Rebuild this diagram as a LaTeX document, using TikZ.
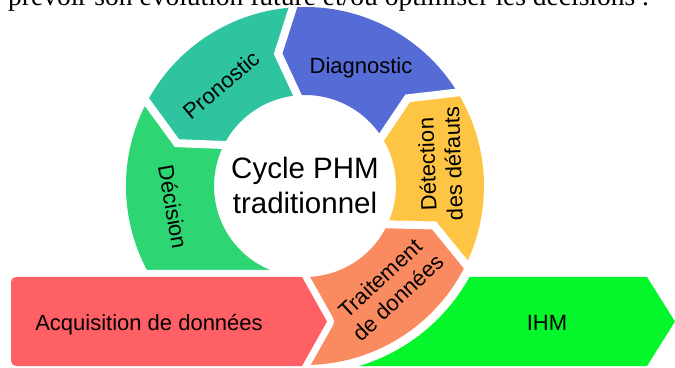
\documentclass[tikz,border=0pt]{standalone}
\usepackage{fontspec}
\setmainfont{Liberation Sans}
\newfontfamily\seriffont{Liberation Serif}
\definecolor{cTeal}{HTML}{2EC4A0}
\definecolor{cBlue}{HTML}{556CD6}
\definecolor{cYellow}{HTML}{FDC543}
\definecolor{cOrange}{HTML}{FA8A60}
\definecolor{cGreen}{HTML}{2ED573}
\definecolor{cRed}{HTML}{FF6066}
\definecolor{cIHM}{HTML}{05F72B}
\begin{document}
\begin{tikzpicture}[x=1pt,y=1pt,
  lbl/.style={font=\fontsize{22}{26}\selectfont, text=black, inner sep=0pt, align=center},
  big/.style={font=\fontsize{29.5}{34}\selectfont, text=black, inner sep=0pt},
  gapline/.style={draw=white, line width=8, line join=miter},
  acq/.style={fill=cRed, preaction={draw=white, line width=14, line join=round}}]
\useasboundingbox (0,0) rectangle (675,367);
\fill[white] (0,0) rectangle (675,367);
% ring segments
\begin{scope}[shift={(305,181)}]
\fill[cOrange] (-90:179) arc[start angle=-90,end angle=-27,radius=179] -- (-17:135) -- (-27:91) arc[start angle=-27,end angle=-90,radius=91] -- cycle;
\fill[cYellow] (-27:179) arc[start angle=-27,end angle=30.5,radius=179] -- (40.5:135) -- (30.5:91) arc[start angle=30.5,end angle=-27,radius=91] -- (-17:135) -- cycle;
\fill[cBlue] (30.5:179) arc[start angle=30.5,end angle=93,radius=179] -- (101.5:135) -- (93:91) arc[start angle=93,end angle=30.5,radius=91] -- (40.5:135) -- cycle;
\fill[cTeal] (93:179) arc[start angle=93,end angle=151,radius=179] -- (161.5:135) -- (151:91) arc[start angle=151,end angle=93,radius=91] -- (101.5:135) -- cycle;
\fill[cGreen] (151:179) arc[start angle=151,end angle=270,radius=179] -- (270:91) arc[start angle=270,end angle=151,radius=91] -- (161.5:135) -- cycle;
\draw[gapline] (-27:186) -- (-17:135) -- (-27:84);
\draw[gapline] (30.5:186) -- (40.5:135) -- (30.5:84);
\draw[gapline] (93:186) -- (101.5:135) -- (93:84);
\draw[gapline] (151:186) -- (161.5:135) -- (151:84);
\end{scope}
% IHM band
\fill[cIHM] (469.5,90) -- (647,90) -- (675,45.5) -- (647,1) -- (359.3,1) arc[start angle=-73.2,end angle=-28.95,radius=188] -- cycle;
% Acquisition band
\path[acq] (302,90) -- (327,45.5) -- (302,1) {[rounded corners=5] -- (11,1) -- (11,90)} -- cycle;
% texts
\node[anchor=base west, inner sep=0pt, font=\seriffont\fontsize{27.5}{30}\selectfont] (top) at (8,361) {prévoir son évolution future et/ou optimiser les décisions .};
\node[big, anchor=base] (cyc1) at (305,188) {Cycle PHM};
\node[big, anchor=base] (cyc2) at (305,153) {traditionnel};
\node[lbl, anchor=base] (diag) at (361,293) {Diagnostic};
\node[lbl, rotate=40] (pron) at (221,282) {Pronostic};
\node[lbl, rotate=-80] (deci) at (173,160) {Décision};
\node[lbl, rotate=92] (dete) at (440,203) {Détection\\des défauts};
\node[lbl, rotate=43] (trai) at (389,79) {Traitement\\de données};
\node[lbl, anchor=base] (acqt) at (149,37) {Acquisition de données};
\node[lbl, anchor=base] (ihm) at (547,37) {IHM};
\end{tikzpicture}
\end{document}
